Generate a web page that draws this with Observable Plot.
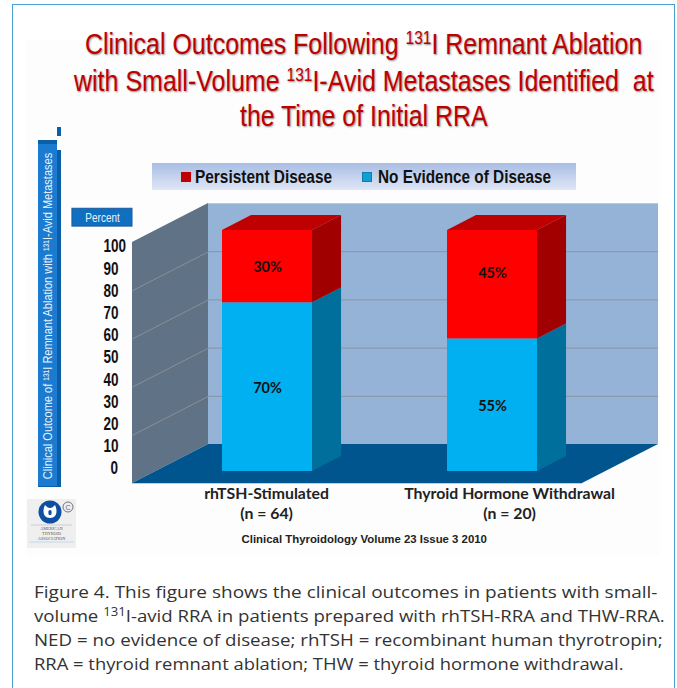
<!DOCTYPE html>
<html><head><meta charset="utf-8">
<script src="https://cdn.jsdelivr.net/npm/d3@7"></script>
<script src="https://cdn.jsdelivr.net/npm/@observablehq/plot@0.6"></script>
<style>
html,body{margin:0;padding:0;background:#fff;width:677px;height:688px;overflow:hidden}
#page{position:relative;width:677px;height:688px;overflow:hidden}
#frame{position:absolute;left:12px;top:4px;width:663px;height:700px;border:1.5px solid #4ba0d2;box-sizing:border-box}
#imgbg{position:absolute;left:26px;top:40px;width:634px;height:516px;background:#fdfdfd}
.fit{position:absolute;white-space:nowrap;display:inline-block;transform-origin:0 50%}
.t{font-family:"Liberation Sans",sans-serif;color:#c00000;font-size:29px;line-height:34px;text-shadow:1px 1px 2px #8a8a8a}
.t sup{font-size:18px;line-height:0;vertical-align:baseline;position:relative;top:-10px}
#legend{position:absolute;left:152px;top:163px;width:424px;height:27px;background:linear-gradient(#a8bde3,#e0e7f6)}
.lsw{position:absolute;top:9px;width:10px;height:10px}
.ltx{top:2px;font:bold 18px "Liberation Sans",sans-serif;color:#111;line-height:24px}
#ybar{position:absolute;left:38px;top:140px;width:23px;height:347px;background:#1a7bd0;box-shadow:inset -4px 0 0 #0b5ea8,inset 0 4px 0 #0b5ea8,inset 0 -1px 0 #0b5ea8}
#ynotch{position:absolute;left:57px;top:140px;width:4px;height:10px;background:#fff}
#ypiece{position:absolute;left:57px;top:127px;width:4px;height:9px;background:#0b5ea8}
#ytext{position:absolute;left:47px;top:316px;white-space:nowrap;font:13.5px "Liberation Sans",sans-serif;color:#e8f2fb}
#chart{position:absolute;left:66px;top:192px}
#logo{position:absolute;left:27px;top:499px;width:49px;height:49px}
.cap{left:34px;font:17px/24px "Open Sans","Liberation Sans",sans-serif;color:#333}
.cap sup{font-size:12px;line-height:0;vertical-align:baseline;position:relative;top:-6px}
</style></head><body>
<div id="page">
<div id="imgbg"></div>
<div id="frame"></div>
<div class="fit t" data-w="557" style="left:85px;top:27px">Clinical Outcomes Following <sup>131</sup>I Remnant Ablation</div>
<div class="fit t" data-w="580" style="left:74px;top:64px">with Small-Volume <sup>131</sup>I-Avid Metastases Identified&nbsp; at</div>
<div class="fit t" data-w="248" style="left:240px;top:99px">the Time of Initial RRA</div>
<div id="ypiece"></div><div id="ybar"></div><div id="ynotch"></div>
<div id="ytext">Clinical Outcome of ¹³¹I Remnant Ablation with ¹³¹I-Avid Metastases</div>
<div id="legend">
<div class="lsw" style="left:29px;background:#c00000"></div><div class="fit ltx" data-w="137" style="left:43px">Persistent Disease</div>
<div class="lsw" style="left:210px;background:#12a0d4;outline:1px solid #0b7fb0;outline-offset:-1px"></div><div class="fit ltx" data-w="173" style="left:226px">No Evidence of Disease</div>
</div>
<div id="chart"></div>
<svg id="logo" viewBox="0 0 49 49"><rect width="49" height="49" fill="#efefef"/><circle cx="23" cy="13" r="11.5" fill="#0d4fa0"/><path d="M18 6c2 2 3 3 5 3s3-1 5-3c2 4 2 8 0 11c-1 1-3 2-5 2s-4-1-5-2c-2-3-2-7 0-11z" fill="#fff"/><path d="M23 11c-2 0-2 3-1 5h2c1-2 1-5-1-5z" fill="#0d4fa0"/><circle cx="41" cy="8" r="5" fill="none" stroke="#666" stroke-width=".9"/><text x="41" y="10.5" font-size="7" text-anchor="middle" font-family="Liberation Sans" fill="#666">C</text><path d="M4 26H45" stroke="#aab" stroke-width=".5"/><g font-size="4.2" text-anchor="middle" font-family="Liberation Serif" fill="#555"><text x="24.5" y="31">AMERICAN</text><text x="24.5" y="36">THYROID</text><text x="24.5" y="41">ASSOCIATION</text></g><path d="M2 43H47" stroke="#b9d3e6" stroke-width=".8"/></svg>
<div class="fit cap" data-w="624" style="top:580px">Figure 4. This figure shows the clinical outcomes in patients with small-</div>
<div class="fit cap" data-w="631" style="top:604px">volume <sup>131</sup>I-avid RRA in patients prepared with rhTSH-RRA and THW-RRA.</div>
<div class="fit cap" data-w="629" style="top:628px">NED = no evidence of disease; rhTSH = recombinant human thyrotropin;</div>
<div class="fit cap" data-w="590" style="top:652px">RRA = thyroid remnant ablation; THW = thyroid hormone withdrawal.</div>
</div>
<script>
const categories = ["rhTSH-Stimulated", "Thyroid Hormone Withdrawal"];
const groupSizes = ["(n = 64)", "(n = 20)"];
const noEvidence = [70, 55];
const persistent = [30, 45];
const tickValues = [0,10,20,30,40,50,60,70,80,90,100];
const gridValues = [20,40,60,80];
const credit = "Clinical Thyroidology Volume 23 Issue 3 2010";

// oblique projection: depth 0 = front of floor, depth 1 = back wall (data units)
const DX = 76/225, DV = 39/2.41;
const P = (u,v,d) => [u + d*DX, v + d*DV];
const quad = (a,b,c,d,fill) => Plot.area([{p:a,q:d},{p:b,q:c}],{
  x1:r=>r.p[0], y1:r=>r.p[1], x2:r=>r.q[0], y2:r=>r.q[1], fill, z:null});

const d0 = 0.308, d1 = 0.69, bw = 0.4;
const faces = [];
categories.forEach((c,i)=>{
  const u0 = i + 0.5 - bw/2 - 0.004, u1 = u0 + bw;
  const segs = [
    {a:0,b:noEvidence[i],front:"#00b0f0",side:"#006f9c"},
    {a:noEvidence[i],b:noEvidence[i]+persistent[i],front:"#ff0000",side:"#a00000"}
  ];
  segs.forEach(s=>{
    faces.push(quad(P(u1,s.a,d0),P(u1,s.a,d1),P(u1,s.b,d1),P(u1,s.b,d0),s.side));
    faces.push(Plot.rect([s],{x1:()=>P(u0,0,d0)[0],x2:()=>P(u1,0,d0)[0],y1:r=>P(0,r.a,d0)[1],y2:r=>P(0,r.b,d0)[1],fill:s.front}));
  });
  const top = noEvidence[i]+persistent[i];
  faces.push(quad(P(u0,top,d0),P(u0,top,d1),P(u1,top,d1),P(u1,top,d0),"#be0000"));
});

const labels = [];
categories.forEach((c,i)=>{
  const cx = P(i+0.496,0,d0)[0];
  labels.push({x:cx,y:P(0,noEvidence[i]/2,d0)[1],text:noEvidence[i]+"%"});
  labels.push({x:cx,y:P(0,noEvidence[i]+persistent[i]/2,d0)[1],text:persistent[i]+"%",raised:i===1});
});
const catX = [0.596,1.676];
const pctStyle = {x:"x",y:"y",text:"text",fontFamily:"Lato",fontWeight:"bold",fontSize:14.5,fill:"#111"};

const chart = Plot.plot({
  width:604, height:360, margin:0,
  style:{background:"transparent",overflow:"visible"},
  x:{domain:[0,2],range:[66,516],axis:null},
  y:{domain:[0,100],range:[291,50],axis:null},
  marks:[
    quad(P(0,100,0),P(0,100,1),P(0,0,1),P(0,0,0),"#5f7286"),
    Plot.rect([0],{x1:()=>DX,x2:()=>2+DX,y1:()=>DV,y2:()=>100+DV,fill:"#95b3d7"}),
    quad(P(0,0,0),P(0,0,1),P(2,0,1),P(2,0,0),"#00558f"),
    Plot.ruleY(gridValues,{y:v=>v+DV,x1:()=>DX,x2:()=>2+DX,stroke:"#8794a3",strokeWidth:1}),
    Plot.link(gridValues,{x1:()=>0,y1:v=>v,x2:()=>DX,y2:v=>v+DV,stroke:"#8d8f92",strokeWidth:1}),
    Plot.ruleY([100+DV],{x1:()=>DX,x2:()=>2+DX,stroke:"#c4c8cc"}),
    Plot.ruleY([0],{x1:()=>0,x2:()=>2,stroke:"#c4ccd4"}),
    ...faces,
    Plot.text(labels.filter(d=>!d.raised),{...pctStyle,dy:1}),
    Plot.text(labels.filter(d=>d.raised),{...pctStyle,dy:-11}),
    Plot.text(tickValues,{className:"narrowtick",x:t=>t===0?-0.098:-0.129,y:t=>6.2+0.921*t,text:t=>String(t),textAnchor:"start",fontFamily:"Liberation Sans",fontWeight:"bold",fontSize:18,fill:"#111"}),
    Plot.rect([0],{x1:()=>-0.267,x2:()=>0,y1:()=>106.6,y2:()=>114,fill:"#0f6fc0",stroke:"#1a5a9c"}),
    Plot.text(["Percent"],{className:"badgetext",x:()=>-0.133,y:()=>110.3,text:d=>d,fontFamily:"Liberation Sans",fontSize:12.5,fill:"#e8f2fb"}),
    Plot.text(categories,{x:(d,i)=>catX[i],y:()=>0,dy:10,text:d=>d,fontFamily:"Lato",fontWeight:"bold",fontSize:15.8,fill:"#222"}),
    Plot.text(groupSizes,{x:(d,i)=>catX[i],y:()=>0,dy:30,text:d=>d,fontFamily:"Lato",fontWeight:"bold",fontSize:15.8,fill:"#222"}),
    Plot.text([credit],{x:()=>1.03,y:()=>0,dy:56,text:d=>d,fontFamily:"Liberation Sans",fontWeight:"bold",fontSize:11.4,fill:"#222"})
  ]
});
document.getElementById("chart").appendChild(chart);

// No narrow face is installed: condense the wide one to the reference's text widths.
document.querySelectorAll(".fit").forEach(el=>{
  el.style.transform = `scaleX(${+el.dataset.w / el.offsetWidth})`;
});
const yt = document.getElementById("ytext");
yt.style.transform = `translate(-50%,-50%) rotate(-90deg) scaleX(${326 / yt.offsetWidth})`;
const condense = (sel,f) => chart.querySelectorAll(sel).forEach(t=>{
  t.setAttribute("textLength", t.getComputedTextLength()*f);
  t.setAttribute("lengthAdjust","spacingAndGlyphs");
});
condense(".narrowtick text",0.75);
condense(".badgetext text",0.8);
</script>
</body></html>
